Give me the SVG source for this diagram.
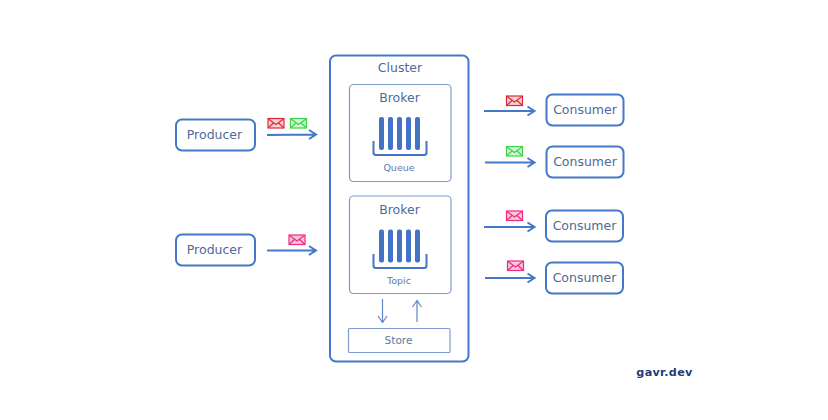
<svg xmlns="http://www.w3.org/2000/svg" width="828" height="420" viewBox="0 0 828 420">
<style>
text{font-family:"DejaVu Sans",Verdana,sans-serif;fill:#4f6a98;text-anchor:middle}
.n{font-size:12.5px}
.s{font-size:9.5px;fill:#5f7aa5}
.box{fill:#fff;stroke:#4478c8;stroke-width:2}
.thin{fill:#fff;stroke:#7f9ccd;stroke-width:1.2}
.arr{fill:none;stroke:#4478c8;stroke-width:2}
.tarr{fill:none;stroke:#5f85c8;stroke-width:1.2}
.bar{fill:#4472c4}
.tray{fill:none;stroke:#4472c4;stroke-width:2}
.env{stroke-width:1.2}
.red{fill:#f9d0d3;stroke:#dc2a35}
.green{fill:#cdf7cf;stroke:#3fd24a}
.pink{fill:#fbc6dc;stroke:#ec2a80}
</style>
<defs>
<g id="m"><rect x="0" y="0" width="16" height="9.500" class="env"/><path d="M0.500 0.500L8 6L15.500 0.500M0.500 9L5.500 4.500M15.500 9L10.500 4.500" fill="none" class="env"/></g>
<g id="q"><rect x="0" y="0" width="5" height="33" rx="2" class="bar"/><rect x="9" y="0" width="5" height="33" rx="2" class="bar"/><rect x="18" y="0" width="5" height="33" rx="2" class="bar"/><rect x="27" y="0" width="5" height="33" rx="2" class="bar"/><rect x="36" y="0" width="5" height="33" rx="2" class="bar"/></g>
</defs>
<rect width="828" height="420" fill="#fff"/>
<g id="cluster"><rect class="box" x="330" y="55.500" width="138.500" height="306" rx="6"/><text class="n" x="400" y="72">Cluster</text></g>
<g id="broker1"><rect class="thin" x="349.500" y="84.500" width="101.500" height="97" rx="4"/><text class="n" x="399.500" y="102">Broker</text><use href="#q" x="379" y="117"/><path class="tray" d="M373.500 141V152.500Q373.500 155 376 155H424Q426.500 155 426.500 152.500V141"/><text class="s" x="399" y="170.500">Queue</text></g>
<g id="broker2"><rect class="thin" x="349.500" y="196" width="101.500" height="97.500" rx="4"/><text class="n" x="399.500" y="214">Broker</text><use href="#q" x="379" y="229.500"/><path class="tray" d="M373.500 254V265.500Q373.500 268 376 268H424Q426.500 268 426.500 265.500V254"/><text class="s" x="399" y="283.500">Topic</text></g>
<g id="store"><rect class="thin" x="348.500" y="328.500" width="101.500" height="24" rx="1"/><text class="s" x="398.500" y="344" style="font-size:10.500px">Store</text></g>
<g id="producer1"><rect class="box" x="176" y="119.500" width="79" height="31" rx="6"/><text class="n" x="214.500" y="138.500">Producer</text></g>
<g id="producer2"><rect class="box" x="176" y="234.500" width="79" height="31" rx="6"/><text class="n" x="214.500" y="253.500">Producer</text></g>
<g id="consumer1"><rect class="box" x="546.500" y="94.500" width="77" height="31" rx="6"/><text class="n" x="585" y="113.500">Consumer</text></g>
<g id="consumer2"><rect class="box" x="546.500" y="146.500" width="77" height="31" rx="6"/><text class="n" x="585" y="165.500">Consumer</text></g>
<g id="consumer3"><rect class="box" x="546" y="210.500" width="77" height="31" rx="6"/><text class="n" x="584.500" y="229.500">Consumer</text></g>
<g id="consumer4"><rect class="box" x="546" y="262.500" width="77" height="31" rx="6"/><text class="n" x="584.500" y="281.500">Consumer</text></g>
<g id="connectors">
<path class="arr" d="M267 135L316 134.500M309 130L316 134.500L309 139"/>
<path class="arr" d="M267 250.500H316M309 246L316 250.500L309 255"/>
<path class="arr" d="M484 111H534.500M527.500 106.500L534.500 111L527.500 115.500"/>
<path class="arr" d="M485 162.500H534.500M527.500 158L534.500 162.500L527.500 167"/>
<path class="arr" d="M484 227H534.500M527.500 222.500L534.500 227L527.500 231.500"/>
<path class="arr" d="M485 278H534.500M527.500 273.500L534.500 278L527.500 282.500"/>
<path class="tarr" d="M382.500 299V322M378 316L382.500 322.500L387 316"/>
<path class="tarr" d="M417 322V301M412.500 307L417 300.500L421.500 307"/>
</g>
<g id="messages">
<use href="#m" x="268" y="118.500" class="red"/>
<use href="#m" x="290.500" y="118.500" class="green"/>
<use href="#m" x="289" y="235" class="pink"/>
<use href="#m" x="506.500" y="96" class="red"/>
<use href="#m" x="506.500" y="146.500" class="green"/>
<use href="#m" x="506.500" y="211" class="pink"/>
<use href="#m" x="507.500" y="261" class="pink"/>
</g>
<text x="664.500" y="375.500" style="font-size:11.200px;font-weight:700;fill:#1f3d78;letter-spacing:.3px">gavr.dev</text>
</svg>
